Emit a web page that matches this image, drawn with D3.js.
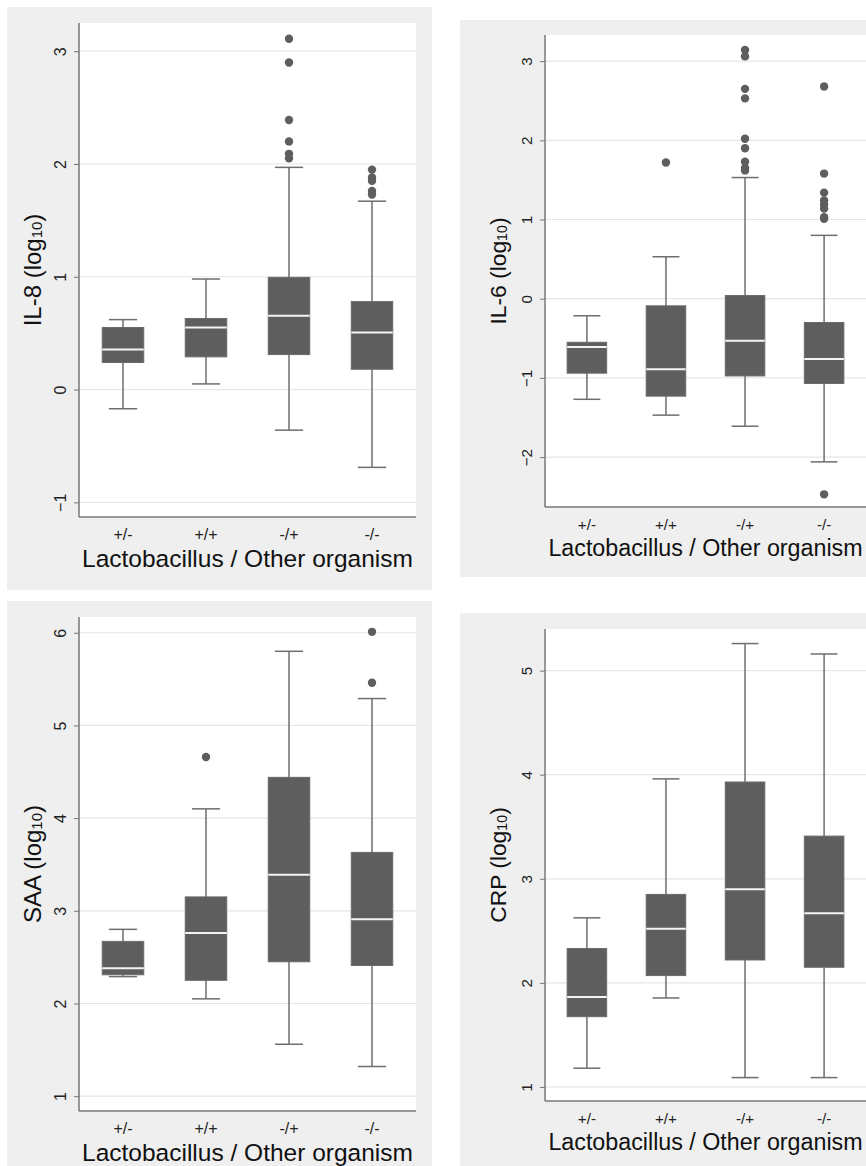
<!DOCTYPE html>
<html>
<head>
<meta charset="utf-8">
<script src="https://cdn.jsdelivr.net/npm/d3@7"></script>
<style>
  body { margin: 0; background: #fff; }
  svg { display: block; font-family: "Liberation Sans", Arial, sans-serif; }
</style>
</head>
<body>
<svg id="chart" width="866" height="1166"></svg>
<script>
// groups on the x axis
var categories = ["+/-", "+/+", "-/+", "-/-"];

// each row: [lower whisker, q1, median, q3, upper whisker]
var il8Stats = [
  [-0.17, 0.24, 0.355, 0.55, 0.62],
  [0.05, 0.29, 0.55, 0.63, 0.98],
  [-0.36, 0.31, 0.655, 0.995, 1.97],
  [-0.69, 0.18, 0.505, 0.78, 1.67]
];
var il8Outliers = [
  [],
  [],
  [3.11, 2.9, 2.39, 2.2, 2.09, 2.05],
  [1.95, 1.88, 1.85, 1.76, 1.73]
];

var il6Stats = [
  [-1.27, -0.94, -0.61, -0.55, -0.215],
  [-1.47, -1.23, -0.89, -0.09, 0.53],
  [-1.61, -0.975, -0.53, 0.04, 1.53],
  [-2.06, -1.07, -0.76, -0.30, 0.80]
];
var il6Outliers = [
  [],
  [1.72],
  [3.14, 3.06, 2.65, 2.53, 2.02, 1.9, 1.73, 1.65, 1.62],
  [2.68, 1.58, 1.34, 1.24, 1.19, 1.14, 1.03, 1.01, -2.47]
];

var saaStats = [
  [2.29, 2.31, 2.38, 2.67, 2.80],
  [2.05, 2.25, 2.76, 3.15, 4.10],
  [1.56, 2.45, 3.39, 4.44, 5.80],
  [1.32, 2.41, 2.91, 3.63, 5.29]
];
var saaOutliers = [
  [],
  [4.66],
  [],
  [6.01, 5.46]
];

var crpStats = [
  [1.18, 1.675, 1.865, 2.33, 2.625],
  [1.855, 2.07, 2.52, 2.85, 3.96],
  [1.09, 2.22, 2.90, 3.93, 5.26],
  [1.09, 2.15, 2.67, 3.41, 5.16]
];
var crpOutliers = [[], [], [], []];

var xTitle = "Lactobacillus / Other organism";

// layout of the four panels (right-hand panels are drawn slightly smaller)
var panels = [
  {name: "IL-8", stats: il8Stats, outliers: il8Outliers, ticks: [-1, 0, 1, 2, 3], domain: [-1.13, 3.25],
   bg: [7, 7, 425, 583], plot: [79, 416, 23, 517], k: 1},
  {name: "IL-6", stats: il6Stats, outliers: il6Outliers, ticks: [-2, -1, 0, 1, 2, 3], domain: [-2.63, 3.33],
   bg: [460, 20, 420, 557], plot: [545, 866, 35, 507], k: 0.95},
  {name: "SAA", stats: saaStats, outliers: saaOutliers, ticks: [1, 2, 3, 4, 5, 6], domain: [0.84, 6.17],
   bg: [7, 601, 425, 565], plot: [79, 416, 617, 1111], k: 1},
  {name: "CRP", stats: crpStats, outliers: crpOutliers, ticks: [1, 2, 3, 4, 5], domain: [0.865, 5.40],
   bg: [460, 613, 420, 553], plot: [545, 866, 629, 1101], k: 0.95}
];

var boxColor = "#5e5e5e",
    lineColor = "#6e6e6e",
    gridColor = "#e6e6e6",
    bgColor = "#efefef";

var svg = d3.select("#chart");

panels.forEach(function(p) {
  var g = svg.append("g");
  var k = p.k;
  var x0 = p.plot[0], x1 = p.plot[1], y0 = p.plot[2], y1 = p.plot[3];

  g.append("rect")
    .attr("x", p.bg[0]).attr("y", p.bg[1])
    .attr("width", p.bg[2]).attr("height", p.bg[3])
    .attr("fill", bgColor);

  g.append("rect")
    .attr("x", x0).attr("y", y0)
    .attr("width", x1 - x0).attr("height", y1 - y0)
    .attr("fill", "#fff");

  var x = d3.scalePoint().domain(categories).range([x0, x1]).padding(0.53);
  var y = d3.scaleLinear().domain(p.domain).range([y1, y0]);
  var step = x.step();
  var boxW = step * 0.5, capW = step * 0.34;

  // gridlines
  g.append("g").selectAll("line")
    .data(p.ticks)
    .enter().append("line")
    .attr("x1", x0).attr("x2", x1)
    .attr("y1", function(d) { return y(d); })
    .attr("y2", function(d) { return y(d); })
    .attr("stroke", gridColor)
    .attr("stroke-width", 1.2);

  // y axis
  var yAxis = g.append("g")
    .attr("transform", "translate(" + x0 + ",0)")
    .call(d3.axisLeft(y).tickValues(p.ticks).tickSize(5).tickFormat(d3.format("d")));
  yAxis.select(".domain").remove();
  yAxis.selectAll(".tick line").attr("stroke", "#777");
  yAxis.selectAll(".tick text")
    .attr("x", null).attr("dy", null)
    .attr("transform", "translate(-19,0) rotate(-90)")
    .attr("text-anchor", "middle")
    .attr("dominant-baseline", "central")
    .attr("font-size", 16 * k)
    .attr("fill", "#222");

  var data = categories.map(function(c, i) {
    return {cat: c, s: p.stats[i], out: p.outliers[i]};
  });

  var box = g.append("g").selectAll("g")
    .data(data)
    .enter().append("g");

  // whiskers
  box.append("line")
    .attr("x1", function(d) { return x(d.cat); })
    .attr("x2", function(d) { return x(d.cat); })
    .attr("y1", function(d) { return y(d.s[0]); })
    .attr("y2", function(d) { return y(d.s[4]); })
    .attr("stroke", lineColor).attr("stroke-width", 1.5);
  box.selectAll(".cap")
    .data(function(d) { return [{cat: d.cat, v: d.s[0]}, {cat: d.cat, v: d.s[4]}]; })
    .enter().append("line")
    .attr("class", "cap")
    .attr("x1", function(d) { return x(d.cat) - capW / 2; })
    .attr("x2", function(d) { return x(d.cat) + capW / 2; })
    .attr("y1", function(d) { return y(d.v); })
    .attr("y2", function(d) { return y(d.v); })
    .attr("stroke", lineColor).attr("stroke-width", 1.5);

  // boxes
  box.append("rect")
    .attr("x", function(d) { return x(d.cat) - boxW / 2; })
    .attr("y", function(d) { return y(d.s[3]); })
    .attr("width", boxW)
    .attr("height", function(d) { return y(d.s[1]) - y(d.s[3]); })
    .attr("fill", boxColor)
    .attr("stroke", "#6a6a6a").attr("stroke-width", 1);

  // medians
  box.append("line")
    .attr("x1", function(d) { return x(d.cat) - boxW / 2; })
    .attr("x2", function(d) { return x(d.cat) + boxW / 2; })
    .attr("y1", function(d) { return y(d.s[2]); })
    .attr("y2", function(d) { return y(d.s[2]); })
    .attr("stroke", "#f4f4f4").attr("stroke-width", 2);

  // outliers
  box.selectAll("circle")
    .data(function(d) { return d.out.map(function(v) { return {cat: d.cat, v: v}; }); })
    .enter().append("circle")
    .attr("cx", function(d) { return x(d.cat); })
    .attr("cy", function(d) { return y(d.v); })
    .attr("r", 4.2)
    .attr("fill", boxColor);

  // axis lines
  g.append("line")
    .attr("x1", x0).attr("x2", x0).attr("y1", y0).attr("y2", y1)
    .attr("stroke", "#777").attr("stroke-width", 1.5);
  g.append("line")
    .attr("x1", x0).attr("x2", x1).attr("y1", y1).attr("y2", y1)
    .attr("stroke", "#777").attr("stroke-width", 1.5);

  // x tick labels
  g.append("g").selectAll("text")
    .data(categories)
    .enter().append("text")
    .attr("x", function(d) { return x(d); })
    .attr("y", y1 + 17)
    .attr("text-anchor", "middle")
    .attr("dominant-baseline", "central")
    .attr("font-size", 16 * k)
    .attr("fill", "#222")
    .text(function(d) { return d; });

  // x title
  g.append("text")
    .attr("x", (x0 + x1) / 2)
    .attr("y", y1 + 41)
    .attr("text-anchor", "middle")
    .attr("dominant-baseline", "central")
    .attr("font-size", 24.5 * k)
    .attr("fill", "#111")
    .text(xTitle);

  // y title with subscript
  var yt = g.append("text")
    .attr("transform", "translate(" + (x0 - 47) + "," + ((y0 + y1) / 2) + ") rotate(-90)")
    .attr("text-anchor", "middle")
    .attr("dominant-baseline", "central")
    .attr("font-size", 24 * k)
    .attr("fill", "#111");
  yt.append("tspan").text(p.name + " (log");
  yt.append("tspan").attr("font-size", 15 * k).attr("dy", 4).text("10");
  yt.append("tspan").attr("dy", -4).text(")");
});
</script>
</body>
</html>
